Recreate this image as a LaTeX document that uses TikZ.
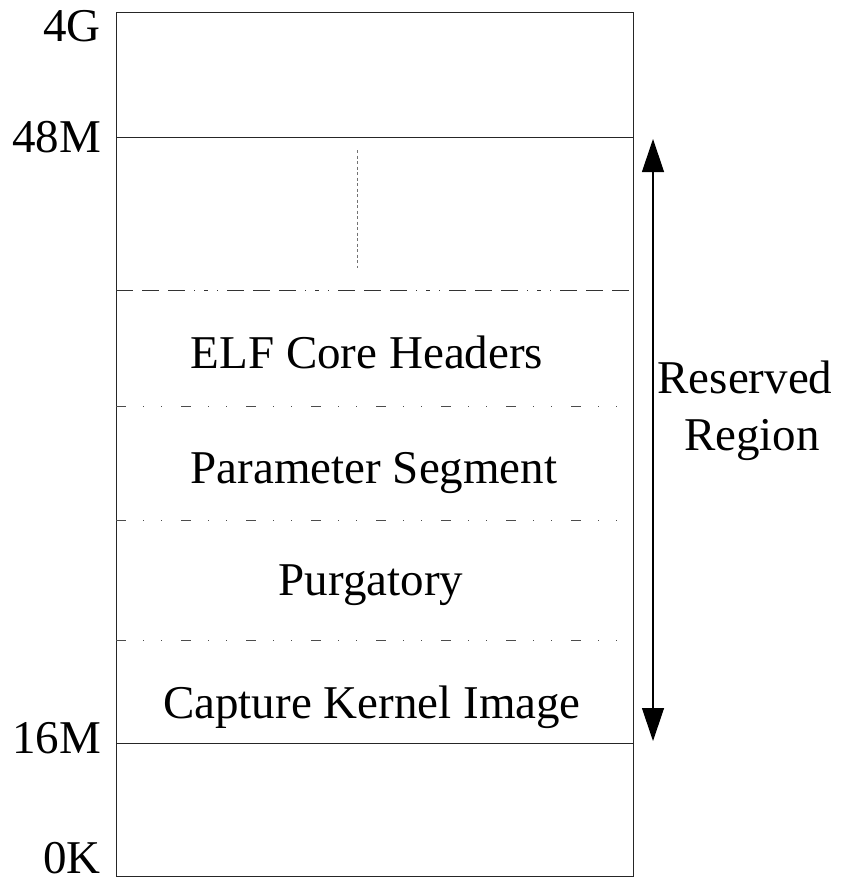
\documentclass[tikz,border=0pt]{standalone}
\usepackage{fontspec}
\setmainfont{Liberation Serif}
\usetikzlibrary{arrows.meta}
\begin{document}
\begin{tikzpicture}[x=1pt,y=-1pt,
  lbl/.style={font=\fontsize{47}{50}\selectfont, inner sep=0pt},
  seg/.style={font=\fontsize{47}{50}\selectfont, inner sep=0pt, anchor=base},
  solidline/.style={line width=1pt, black!85},
  dashdotline/.style={line width=1pt, black!80, dash pattern=on 17pt off 9pt on 17pt off 9pt on 17pt off 9pt on 1pt off 9pt on 4pt off 9pt on 1pt off 9pt},
  dashdotdot/.style={line width=1pt, black!70, dash pattern=on 10pt off 17pt on 1.2pt off 17pt on 1.2pt off 18.6pt},
  vdots/.style={line width=1pt, black!55, dash pattern=on 3pt off 2.5pt}
]
\useasboundingbox (0,0) rectangle (844,883);
% outer box
\draw[solidline] (116,13) rectangle (633,876);
% boundaries
\coordinate (l48) at (116,137); \coordinate (r48) at (633,137);
\coordinate (l16) at (116,743); \coordinate (r16) at (633,743);
\draw[solidline] (l48) -- (r48);
\draw[solidline] (l16) -- (r16);
\coordinate (la) at (116,290); \coordinate (ra) at (633,290);
\draw[dashdotline] (la) -- (ra);
\coordinate (lb) at (116,406); \coordinate (rb) at (633,406);
\coordinate (lc) at (116,520); \coordinate (rc) at (633,520);
\coordinate (ld) at (116,640); \coordinate (rd) at (633,640);
\draw[dashdotdot] (lb) -- (rb);
\draw[dashdotdot] (lc) -- (rc);
\draw[dashdotdot] (ld) -- (rd);
% dotted vertical
\coordinate (vt) at (357,150); \coordinate (vb) at (357,268);
\draw[vdots] (vt) -- (vb);
% address labels
\node[lbl, anchor=base east] (g4) at (101,42) {4G};
\node[lbl, anchor=base east] (m48) at (101,152) {48M};
\node[lbl, anchor=base east] (m16) at (101,753) {16M};
\node[lbl, anchor=base east] (k0) at (101,873) {0K};
% segments
\node[seg] (elf) at (367,368) {ELF Core Headers};
\node[seg] (par) at (374,483) {Parameter Segment};
\node[seg] (pur) at (371,595) {Purgatory};
\node[seg] (cap) at (372,718) {Capture Kernel Image};
% arrow
\coordinate (at) at (653,139); \coordinate (ab) at (653,741);
\draw[line width=1.2pt, {Triangle[width=22pt,length=33pt]}-{Triangle[width=22pt,length=33pt]}] (at) -- (ab);
\node[seg] (res) at (745,393) {Reserved};
\node[seg] (reg) at (752,450) {Region};
\end{tikzpicture}
\end{document}
